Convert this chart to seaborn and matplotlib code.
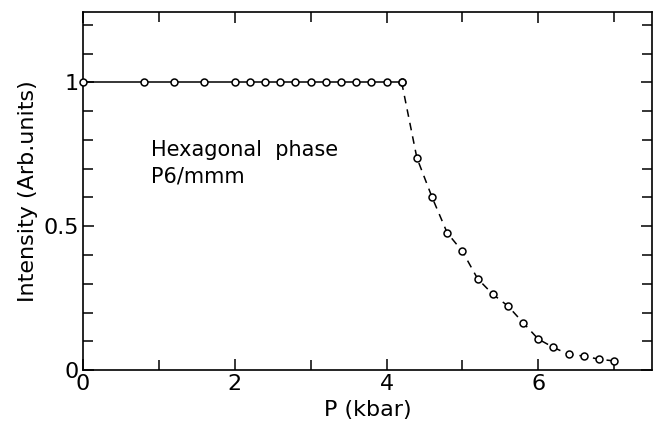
import matplotlib
matplotlib.use("Agg")
import matplotlib.pyplot as plt
import seaborn as sns
import pandas as pd
from matplotlib.ticker import MultipleLocator, FixedLocator

# --- data ---
p_hex = [0.0, 0.8, 1.2, 1.6, 2.0, 2.2, 2.4, 2.6, 2.8, 3.0, 3.2, 3.4, 3.6, 3.8, 4.0, 4.2]
i_hex = [1.0] * len(p_hex)
p_decay = [4.2, 4.4, 4.6, 4.8, 5.0, 5.2, 5.4, 5.6, 5.8, 6.0, 6.2, 6.4, 6.6, 6.8, 7.0]
i_decay = [1.0, 0.738, 0.601, 0.477, 0.413, 0.318, 0.264, 0.223, 0.165, 0.108,
           0.079, 0.055, 0.049, 0.038, 0.032]
x_ticks = [0, 2, 4, 6]
x_ticklabels = ["0", "2", "4", "6"]
y_ticks = [0, 0.5, 1]
y_ticklabels = ["0", "0.5", "1"]

sns.set_style("ticks", {"text.color": "black", "axes.labelcolor": "black",
                        "xtick.color": "black", "ytick.color": "black",
                        "axes.edgecolor": "black"})
plt.rcParams["font.family"] = ["DejaVu Sans"]

fig = plt.figure(figsize=(6.54, 4.24), dpi=100)
ax = fig.add_axes([0.127, 0.127, 0.870, 0.845])

df_hex = pd.DataFrame({"P": p_hex, "I": i_hex})
df_dec = pd.DataFrame({"P": p_decay, "I": i_decay})

sns.lineplot(data=df_hex, x="P", y="I", ax=ax, color="black", lw=1.1,
             marker="o", markersize=5, markerfacecolor="white",
             markeredgecolor="black", markeredgewidth=1.1, clip_on=False,
             zorder=3)
sns.lineplot(data=df_dec, x="P", y="I", ax=ax, color="black", lw=1.1,
             linestyle=(0, (5, 4)),
             marker="o", markersize=5, markerfacecolor="white",
             markeredgecolor="black", markeredgewidth=1.1, clip_on=False,
             zorder=3)

ax.set_xlim(0, 7.5)
ax.set_ylim(0, 1.245)
ax.xaxis.set_major_locator(FixedLocator(x_ticks))
ax.set_xticklabels(x_ticklabels)
ax.xaxis.set_minor_locator(MultipleLocator(1))
ax.yaxis.set_major_locator(FixedLocator(y_ticks))
ax.set_yticklabels(y_ticklabels)
ax.yaxis.set_minor_locator(MultipleLocator(0.1))

ax.tick_params(which="both", direction="in", top=True, right=True,
               width=1.1, labelsize=16, pad=3, colors="black")
ax.tick_params(which="major", length=8)
ax.tick_params(which="minor", length=7)
for s in ax.spines.values():
    s.set_linewidth(1.2)
    s.set_color("black")

ax.set_xlabel("P (kbar)", fontsize=16, labelpad=4, color="black")
ax.set_ylabel("Intensity (Arb.units)", fontsize=16, labelpad=4, color="black")

ax.text(0.9, 0.765, "Hexagonal  phase", fontsize=15, va="center", ha="left",
        color="black")
ax.text(0.9, 0.672, "P6/mmm", fontsize=15, va="center", ha="left",
        color="black")

fig.savefig("out.png", dpi=100)
